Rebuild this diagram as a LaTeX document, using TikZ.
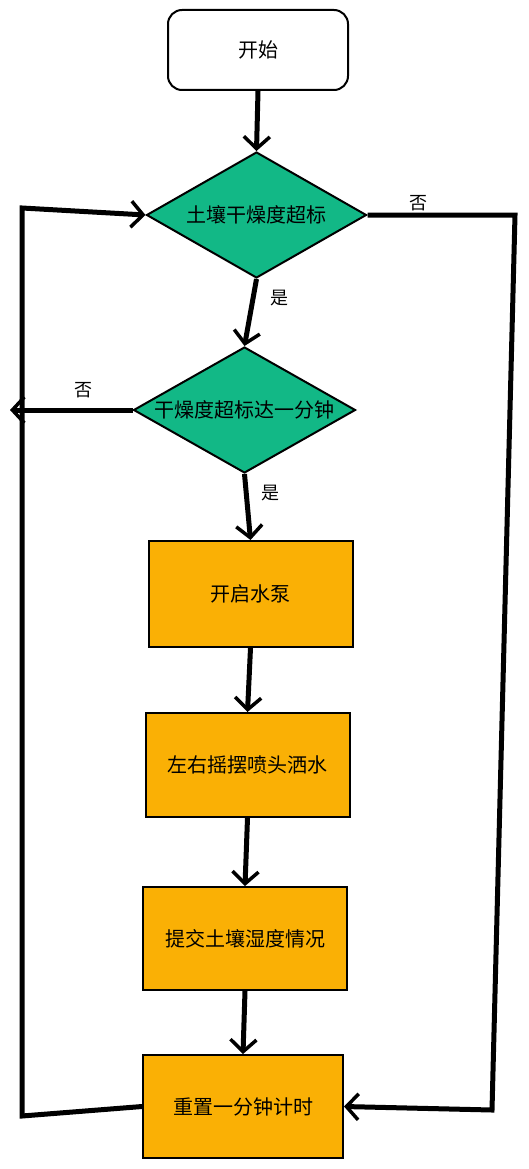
\documentclass[tikz,border=0pt]{standalone}
\usepackage{fontspec}
\usepackage{tikz}
\usetikzlibrary{shapes.geometric}
\usetikzlibrary{positioning}
\usetikzlibrary{arrows.meta}
\newfontfamily\cjk{Noto Sans CJK SC}
\definecolor{soilgreen}{RGB}{18,184,134}
\definecolor{pumporange}{RGB}{250,176,5}
\tikzset{every picture/.style={x=1pt,y=-1pt},
  every node/.style={font=\cjk\fontsize{20}{24}\selectfont},
  startbox/.style={draw,line width=2pt,rounded corners=14pt,minimum width=180pt,minimum height=80pt},
  decision/.style={draw,line width=2pt,diamond,aspect=1.75,inner sep=0pt,fill=soilgreen,minimum width=220pt,minimum height=126pt},
  process/.style={draw,line width=2pt,fill=pumporange,minimum width=204pt,minimum height=104pt},
  flow/.style={line width=5pt,-{Straight Barb[length=12pt,width=26pt,line width=3.5pt]}},
  lbl/.style={font=\cjk\fontsize{18}{20}\selectfont}}
\begin{document}
\begin{tikzpicture}
    \useasboundingbox (0,0) rectangle (529,1169);

    \node (start) [startbox] at (258,50) {开始};
    \node (d1) [decision, below=60pt of start, xshift=-1.5pt] {土壤干燥度超标};
    \node (d2) [decision, below=67pt of d1, xshift=-12pt, minimum width=222pt] {干燥度超标达一分钟};
    \node (pump) [process, below=66pt of d2, xshift=6pt, minimum height=106pt] {开启水泵};
    \node (spray) [process, below=64pt of pump, xshift=-3pt] {左右摇摆喷头洒水};
    \node (report) [process, below=68pt of spray, xshift=-2.5pt, minimum height=103pt] {提交土壤湿度情况};
    \node (reset) [process, below=63pt of report, xshift=-2pt, minimum width=200pt, minimum height=103pt] {重置一分钟计时};

    % loop corners
    \coordinate (lefttop) at (22,208);
    \coordinate (leftbot) at (22,1116);
    \coordinate (righttop) at (515,215);
    \coordinate (rightbot) at (492,1110);
    \coordinate (d2out) at (10,410);

    \draw[flow] (start.south) -- (d1.north);
    \draw[flow] (d1.south) -- (d2.north);
    \draw[flow] (d2.south) -- (pump.north);
    \draw[flow] (pump.south) -- (spray.north);
    \draw[flow] (spray.south) -- (report.north);
    \draw[flow] (report.south) -- (reset.north);

    \draw[flow] (d1.east) -- (righttop) -- (rightbot) -- (reset.east);
    \draw[flow] (d2.west) -- (d2out);
    \draw[flow] (reset.west) -- (leftbot) -- (lefttop) -- (d1.west);

    \node (no1) [lbl] at (418,203) {否};
    \node (yes1) [lbl] at (279,298) {是};
    \node (no2) [lbl] at (83,390) {否};
    \node (yes2) [lbl] at (270,493) {是};
\end{tikzpicture}
\end{document}
